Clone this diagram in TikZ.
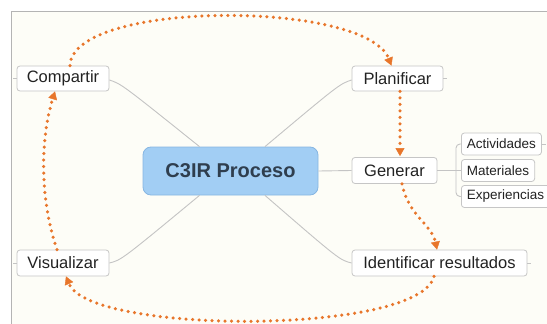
\documentclass[tikz,border=0pt]{standalone}
\usepackage{fontspec}
\setmainfont{Liberation Sans}
\usetikzlibrary{arrows.meta}
\definecolor{bgc}{HTML}{FDFDF7}
\definecolor{framec}{HTML}{B4B4B4}
\definecolor{connc}{HTML}{C4C4C4}
\definecolor{boxc}{HTML}{C6C6C6}
\definecolor{orng}{HTML}{E8762B}
\definecolor{cfill}{HTML}{A2CEF4}
\definecolor{cborder}{HTML}{86B6E2}
\definecolor{ctext}{HTML}{2F3E4E}
\definecolor{ttext}{HTML}{222222}
\begin{document}
\begin{tikzpicture}[x=1pt,y=-1pt,
  topic/.style={draw=boxc, fill=white, rounded corners=3pt, line width=0.8pt,
    font=\fontsize{16.5}{18}\selectfont, text=ttext, inner sep=0pt, minimum height=25pt},
  subtopic/.style={topic, font=\fontsize{13.5}{15}\selectfont, minimum height=22pt,
    anchor=west, inner xsep=5.5pt},
  central/.style={draw=cborder, fill=cfill, rounded corners=8pt, line width=0.8pt,
    font=\fontsize{20}{22}\selectfont\bfseries, text=ctext, inner sep=0pt},
  connline/.style={draw=connc, line width=0.9pt},
  flow/.style={draw=orng, line width=3.5pt, line cap=round, dash pattern=on 0pt off 6.5pt,
    -{Triangle[length=8pt,width=9pt,line width=0.4pt]}}]
\useasboundingbox (0,0) rectangle (547,324);
\fill[white] (0,0) rectangle (547,324);
\fill[bgc] (11,11) rectangle (547,324);
\draw[framec, line width=0.8pt] (11,324) -- (11,11) -- (547,11);

% nodes
\node[central, minimum width=175pt, minimum height=48pt] (c3ir) at (230.5,171) {C3IR Proceso};
\node[topic, minimum width=92pt] (comp) at (63,78.5) {Compartir};
\node[topic, minimum width=91pt] (plan) at (397.5,78.5) {Planificar};
\node[topic, minimum width=85pt, minimum height=26pt] (gen) at (394.5,170.5) {Generar};
\node[topic, minimum width=92pt, minimum height=26pt] (vis) at (63,263) {Visualizar};
\node[topic, minimum width=175pt, minimum height=26pt] (iden) at (439.5,263) {Identificar resultados};
\node[subtopic] (act) at (461,144) {Actividades};
\node[subtopic] (mat) at (461,170.5) {Materiales};
\node[subtopic] (exp) at (461,196.5) {Experiencias};

% gray connectors
\draw[connline] ([yshift=-1.5pt]comp.east) .. controls +(12,4) .. ([xshift=-31pt]c3ir.north);
\draw[connline] ([yshift=-1.5pt]plan.west) .. controls +(-12,4) .. ([xshift=34.5pt]c3ir.north);
\draw[connline] (vis.east) .. controls +(12,-3) .. ([xshift=-31pt]c3ir.south);
\draw[connline] (iden.west) .. controls +(-12,-3) .. ([xshift=34.5pt]c3ir.south);
\draw[connline] (c3ir.east) -- (gen.west);
\coordinate (br) at (456,170.5);
\draw[connline] (gen.east) -- (br) -- (mat.west);
\draw[connline, rounded corners=4pt] (act.west) -- (456,144) -- (456,196.5) -- (exp.west);
% stubs
\draw[connline] (comp.west) -- ++(-4,0);
\draw[connline] (vis.west) -- ++(-4,0);
\draw[connline] (plan.east) -- ++(4,0);
\draw[connline] (iden.east) -- ++(4,0);
\draw[connline] (act.east) -- ++(4,0);

% orange flow
\draw[flow] ([xshift=7pt]comp.north) .. controls (72,0) and (365,0) .. ([xshift=-6pt]plan.north);
\draw[flow] ([xshift=2.5pt]plan.south) -- ([xshift=2.5pt,yshift=1pt]gen.north -| plan.south);
\draw[flow] ([xshift=7.5pt]gen.south) .. controls (408,215) and (432,225) .. ([xshift=-2.5pt]iden.north);
\draw[flow] ([xshift=-5.5pt]iden.south) .. controls (420,335) and (90,335) .. ([xshift=3pt]vis.south);
\draw[flow] ([xshift=-6pt]vis.north) .. controls (40,200) and (40,140) .. ([xshift=-8pt]comp.south);
\end{tikzpicture}
\end{document}
